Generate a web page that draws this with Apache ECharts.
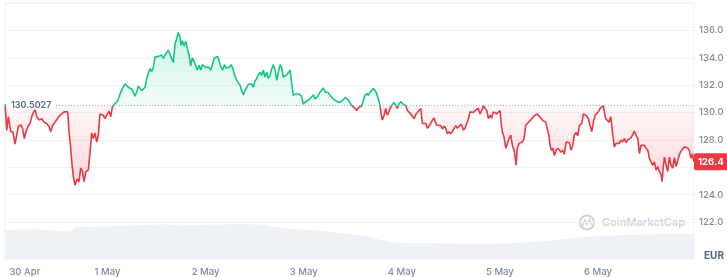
<!DOCTYPE html>
<html>
<head>
<meta charset="utf-8">
<script src="https://cdn.jsdelivr.net/npm/echarts@6/dist/echarts.min.js"></script>
<style>
  html, body { margin: 0; padding: 0; background: #fff; }
  #chart { width: 727px; height: 277px; }
</style>
</head>
<body>
<div id="chart"></div>
<script>
// hours since 30 Apr 00:00, price in EUR
var priceHours = [
  -1.05, -0.66, -0.27, 0.32, 0.81, 1.37, 1.79, 2.18, 2.84, 3.25,
  3.65, 4.06, 4.55, 5.04, 5.46, 5.85, 6.26, 6.68, 7.32, 7.9,
  8.47, 9.13, 9.76, 10.1, 10.6, 11.16, 11.72, 12.21, 12.8, 13.36,
  14.27, 14.58, 15.0, 15.32, 15.64, 16.05, 16.61, 17.03, 17.45, 17.84,
  18.25, 18.74, 19.31, 19.72, 20.14, 20.53, 20.95, 21.36, 21.75, 22.17,
  22.59, 22.98, 23.39, 23.96, 24.37, 24.79, 25.18, 25.84, 26.5, 27.06,
  27.63, 28.29, 28.7, 29.1, 29.51, 29.93, 30.32, 30.73, 31.15, 31.54,
  31.96, 32.37, 32.77, 33.18, 33.6, 33.99, 34.4, 34.82, 35.21, 35.63,
  36.04, 36.44, 36.85, 37.27, 37.66, 38.08, 38.49, 38.88, 39.3, 39.71,
  40.11, 40.52, 40.94, 41.33, 41.74, 41.99, 42.31, 42.72, 43.14, 43.53,
  43.95, 44.36, 44.76, 45.17, 45.59, 45.98, 46.4, 46.81, 47.2, 47.62,
  48.03, 48.43, 48.84, 49.26, 49.65, 50.07, 50.48, 50.97, 51.36, 51.78,
  52.19, 52.59, 53.0, 53.42, 53.81, 54.23, 54.64, 55.03, 55.62, 56.01,
  56.42, 56.84, 57.23, 57.65, 58.06, 58.46, 58.87, 59.29, 59.68, 60.1,
  60.51, 60.9, 61.32, 61.73, 62.13, 62.54, 62.96, 63.35, 63.77, 64.18,
  64.58, 64.99, 65.41, 65.8, 66.22, 66.63, 67.02, 67.44, 67.85, 68.25,
  68.66, 69.08, 69.47, 69.89, 70.3, 70.7, 71.11, 71.53, 71.92, 72.34,
  72.75, 73.14, 73.56, 73.97, 74.37, 74.78, 75.2, 75.59, 76.01, 76.42,
  76.81, 77.23, 77.64, 78.04, 78.45, 78.87, 79.26, 79.68, 80.09, 80.48,
  80.9, 81.31, 81.71, 82.12, 82.54, 82.94, 83.35, 83.76, 84.15, 84.57,
  84.98, 85.38, 85.79, 86.21, 86.6, 87.02, 87.43, 87.82, 88.24, 88.65,
  89.05, 89.46, 89.71, 90.03, 90.27, 90.69, 90.93, 91.25, 91.67, 92.08,
  92.47, 92.89, 93.3, 93.7, 94.11, 94.53, 94.92, 95.34, 95.75, 96.14,
  96.56, 96.98, 97.37, 97.79, 98.2, 98.59, 99.01, 99.42, 99.82, 100.23,
  100.65, 101.04, 101.46, 101.87, 102.26, 102.68, 103.09, 103.48, 103.9, 104.32,
  104.71, 105.13, 105.54, 105.93, 106.35, 106.76, 107.15, 107.57, 107.98, 108.37,
  108.79, 109.2, 109.6, 110.01, 110.43, 110.8, 111.07, 111.48, 111.9, 112.29,
  112.71, 113.12, 113.51, 113.93, 114.35, 114.74, 115.16, 115.57, 115.96, 116.38,
  116.79, 117.18, 117.6, 118.02, 118.41, 118.83, 119.24, 119.63, 120.05, 120.29,
  120.61, 121.03, 121.44, 121.83, 122.25, 122.66, 123.06, 123.47, 123.79, 123.96,
  124.28, 124.7, 125.11, 125.5, 125.92, 126.33, 126.72, 127.14, 127.55, 127.95,
  128.36, 128.78, 129.17, 129.59, 130.0, 130.4, 130.81, 131.23, 131.62, 131.96,
  132.29, 132.6, 132.95, 133.34, 133.76, 134.17, 134.56, 134.98, 135.39, 135.78,
  136.2, 136.61, 137.0, 137.42, 137.84, 138.23, 138.65, 139.06, 139.45, 140.04,
  140.43, 140.85, 141.26, 141.65, 142.07, 142.49, 142.88, 143.3, 143.71, 144.1,
  144.52, 144.93, 145.33, 145.57, 145.91, 146.3, 146.72, 147.14, 147.38, 147.7,
  148.02, 148.43, 148.85, 149.24, 149.66, 150.07, 150.46, 150.88, 151.29, 151.69,
  152.1, 152.52, 152.91, 153.33, 153.74, 154.13, 154.55, 154.97, 155.36, 155.78,
  156.19, 156.58, 157.0, 157.41, 157.8, 158.22, 158.64, 159.03, 159.45, 159.69,
  159.94, 160.25, 160.67, 161.08, 161.48, 161.89, 162.31, 162.7, 163.12, 163.53,
  163.92, 164.34, 164.75, 165.15, 165.56, 165.98, 166.37, 166.79, 167.1, 167.5
];
var priceValues = [
  130.6, 128.7, 129.7, 128.6, 128.6, 127.7, 128.35, 129.0, 129.1, 128.8,
  128.1, 128.6, 129.0, 129.2, 129.7, 130.0, 130.2, 129.7, 129.45, 129.55,
  129.3, 129.2, 128.95, 128.6, 129.1, 129.3, 129.55, 129.75, 129.9, 130.05,
  130.05, 128.6, 127.4, 126.2, 125.3, 124.7, 125.15, 124.95, 125.95, 125.7,
  124.95, 125.7, 125.8, 127.1, 128.5, 128.1, 128.5, 127.85, 128.35, 129.9,
  130.0, 129.8, 129.55, 129.9, 130.1, 129.7, 130.4, 130.65, 130.85, 131.35,
  131.75, 132.1, 132.05, 131.85, 131.75, 131.7, 131.5, 131.2, 131.5, 131.95,
  132.05, 131.6, 131.55, 131.85, 132.5, 132.6, 133.2, 133.0, 133.3, 134.05,
  133.95, 134.1, 134.05, 134.2, 133.95, 134.2, 134.3, 134.55, 134.65, 133.95,
  133.65, 135.0, 135.4, 135.85, 135.5, 134.9, 135.25, 134.85, 135.2, 134.7,
  134.2, 133.4, 134.0, 133.75, 133.8, 133.1, 133.45, 133.1, 133.5, 133.45,
  133.3, 133.2, 133.3, 133.1, 133.45, 133.95, 134.05, 134.1, 134.05, 133.3,
  133.1, 133.5, 133.25, 133.2, 133.3, 133.5, 133.25, 132.8, 132.35, 132.35,
  132.0, 131.6, 131.3, 131.6, 131.5, 132.05, 132.0, 132.1, 131.85, 132.3,
  132.5, 132.5, 132.95, 132.7, 133.1, 132.6, 132.95, 132.5, 132.7, 133.2,
  133.5, 133.1, 132.35, 132.95, 133.5, 133.25, 132.6, 132.5, 132.75, 132.7,
  133.1, 132.1, 131.25, 131.2, 131.4, 131.45, 131.3, 131.15, 130.6, 130.75,
  130.8, 130.9, 131.0, 131.15, 131.3, 131.0, 130.95, 131.25, 131.5, 131.6,
  131.8, 131.5, 131.4, 131.45, 131.25, 131.15, 131.0, 130.95, 130.8, 130.9,
  130.75, 130.65, 130.95, 131.1, 131.2, 130.9, 130.7, 130.5, 130.4, 130.3,
  130.15, 130.35, 130.4, 130.5, 130.9, 131.25, 131.4, 131.25, 131.5, 131.4,
  131.75, 131.8, 131.5, 131.4, 131.0, 130.5, 129.9, 129.45, 129.8, 130.3,
  129.8, 130.1, 130.4, 130.5, 130.75, 130.5, 130.3, 130.65, 130.8, 130.65,
  130.75, 130.5, 130.15, 130.05, 129.9, 129.8, 129.55, 129.85, 129.75, 130.15,
  130.3, 129.2, 129.3, 129.2, 128.85, 128.95, 129.2, 129.45, 129.6, 129.2,
  129.05, 128.95, 129.05, 128.8, 129.0, 128.85, 128.45, 128.6, 128.45, 128.6,
  128.85, 129.05, 128.85, 128.95, 129.15, 129.0, 128.7, 128.85, 129.2, 129.55,
  130.05, 130.15, 130.0, 130.15, 130.1, 130.3, 129.9, 130.15, 130.5, 130.4,
  130.15, 129.55, 129.8, 129.6, 130.05, 130.15, 129.9, 130.0, 130.15, 129.3,
  128.6, 128.2, 127.4, 127.3, 128.1, 128.35, 127.6, 127.25, 126.65, 126.15,
  127.4, 127.75, 127.85, 127.85, 128.1, 129.05, 129.2, 129.2, 129.45, 129.5,
  129.75, 129.7, 129.9, 129.75, 129.7, 129.45, 129.35, 129.3, 129.2, 128.35,
  127.6, 127.25, 127.4, 126.85, 127.25, 127.4, 127.5, 127.1, 127.25, 126.95,
  127.85, 127.75, 127.8, 127.25, 127.6, 128.35, 128.55, 128.3, 129.05, 129.2,
  129.9, 129.85, 129.75, 129.55, 129.05, 128.6, 129.3, 129.8, 129.9, 130.05,
  130.3, 130.4, 130.5, 130.0, 129.55, 129.45, 129.3, 129.7, 129.05, 128.2,
  127.5, 127.75, 127.85, 127.75, 128.0, 127.85, 128.1, 127.8, 128.0, 128.1,
  128.15, 128.1, 128.65, 128.35, 128.1, 127.0, 127.6, 127.5, 127.6, 127.4,
  127.25, 126.65, 126.7, 126.15, 126.4, 125.8, 126.05, 125.7, 125.45, 124.95,
  125.9, 126.75, 126.15, 125.7, 126.75, 126.15, 125.95, 126.7, 126.05, 126.5,
  126.9, 127.2, 127.3, 127.5, 127.6, 127.4, 127.2, 126.65, 127.0, 126.4
];

// volume (arbitrary units, millions EUR)
var volumeHours = [-1.08, 6.3, 12.4, 14.8, 16.1, 27.1, 37.6, 41.7, 46.6, 56.4, 62.5, 64.5, 68.7, 76.7,
  80.9, 87.0, 89.0, 93.1, 95.6, 105.4, 115.2, 123.2, 131.5, 137.9, 141.3, 149.4, 157.5, 167.5];
var volumes = [31.3, 32, 30.2, 29.5, 34.3, 35.6, 37.4, 36, 36.7, 37.8, 37, 34.9, 32.4, 30.2,
  27.7, 24.8, 22.4, 18.7, 17.6, 17, 16.2, 17, 19.4, 22.4, 24.1, 25.6, 26.6, 27];

var dayTicks = [0, 24, 48, 72, 96, 120, 144];
var dayLabels = ['30 Apr', '1 May', '2 May', '3 May', '4 May', '5 May', '6 May'];

var openPrice = 130.5027;
var lastPrice = 126.4;

var green = '#16c784';
var red = '#ea3943';
var labelGray = '#808a9d';

var pricePts = priceHours.map(function (h, i) { return [h, priceValues[i]]; });
var upperPts = priceHours.map(function (h, i) { return [h, Math.max(priceValues[i], openPrice)]; });
var lowerPts = priceHours.map(function (h, i) { return [h, Math.min(priceValues[i], openPrice)]; });
var volPts = volumeHours.map(function (h, i) { return [h, volumes[i]]; });

var chart = echarts.init(document.getElementById('chart'));

var option = {
  animation: false,
  textStyle: { fontFamily: 'Inter, Roboto, sans-serif' },
  grid: [
    { left: 5, right: 33, top: 3, bottom: 27.5 },
    { left: 5, right: 33, top: 3, bottom: 18, show: true, borderColor: '#eff2f5', borderWidth: 1 }
  ],
  xAxis: [
    { gridIndex: 0, type: 'value', min: -1.08, max: 167.5, show: false },
    {
      gridIndex: 1, type: 'value', min: -1.08, max: 167.5,
      axisLine: { show: false }, axisTick: { show: false }, splitLine: { show: false },
      axisLabel: {
        customValues: dayTicks,
        formatter: function (v) { return dayLabels[Math.round(v / 24)]; },
        color: labelGray, fontSize: 9.5, fontWeight: 500, margin: 8,
        alignMinLabel: 'left'
      }
    }
  ],
  yAxis: [
    {
      gridIndex: 0, type: 'value', position: 'right', min: 120, max: 138, interval: 2,
      axisLine: { show: false }, axisTick: { show: false },
      splitLine: { lineStyle: { color: '#eff2f5', width: 1 } },
      axisLabel: {
        color: labelGray, fontSize: 9.5, fontWeight: 500, margin: 5,
        showMinLabel: false, showMaxLabel: false,
        formatter: function (v) { return v.toFixed(1); }
      }
    },
    { gridIndex: 1, type: 'value', min: 0, max: 276, show: false }
  ],
  visualMap: {
    show: false, type: 'piecewise', seriesIndex: 0, dimension: 1,
    pieces: [
      { min: 100, max: openPrice, color: red },
      { min: openPrice, max: 160, color: green }
    ]
  },
  series: [
    {
      name: 'Price', type: 'line', xAxisIndex: 0, yAxisIndex: 0, clip: false,
      data: pricePts, symbol: 'none', lineStyle: { width: 1.6 }, z: 5,
      markLine: {
        silent: true, symbol: ['none', 'none'],
        data: [
          {
            yAxis: openPrice,
            lineStyle: { color: '#a6b0c3', type: [1, 2], width: 1 },
            label: {
              show: true, position: 'insideStartTop', distance: [3, 0], verticalAlign: 'middle',
              formatter: '130.5027', backgroundColor: '#fff', color: '#58667e',
              fontSize: 9, fontWeight: 600, padding: [2, 4, 2, 3]
            }
          },
          {
            yAxis: lastPrice,
            lineStyle: { color: 'rgba(0,0,0,0)', width: 0 },
            label: {
              show: true, position: 'end', distance: 0, opacity: 1,
              formatter: '126.4', backgroundColor: red, color: '#fff',
              fontSize: 9.5, fontWeight: 700, padding: [4, 4, 3, 4], borderRadius: 2
            }
          }
        ]
      }
    },
    {
      name: 'above', type: 'line', xAxisIndex: 0, yAxisIndex: 0, silent: true,
      data: upperPts, symbol: 'none', lineStyle: { width: 0 }, z: 3,
      areaStyle: {
        origin: openPrice,
        color: new echarts.graphic.LinearGradient(0, 0, 0, 1, [
          { offset: 0, color: 'rgba(22,199,132,0.30)' },
          { offset: 1, color: 'rgba(22,199,132,0.08)' }
        ])
      }
    },
    {
      name: 'below', type: 'line', xAxisIndex: 0, yAxisIndex: 0, silent: true,
      data: lowerPts, symbol: 'none', lineStyle: { width: 0 }, z: 3,
      areaStyle: {
        origin: openPrice,
        color: new echarts.graphic.LinearGradient(0, 0, 0, 1, [
          { offset: 0, color: 'rgba(234,57,67,0.06)' },
          { offset: 1, color: 'rgba(234,57,67,0.28)' }
        ])
      }
    },
    {
      name: 'Volume', type: 'line', xAxisIndex: 1, yAxisIndex: 1, silent: true,
      data: volPts, symbol: 'none', lineStyle: { width: 0 }, z: 1,
      areaStyle: { color: '#eef1f5', opacity: 1 }
    }
  ],
  graphic: [
    { type: 'circle', shape: { cx: 587, cy: 222.5, r: 7 }, style: { fill: 'none', stroke: '#cdd3de', lineWidth: 2 } },
    {
      type: 'polyline',
      shape: { points: [[582.5, 226], [585, 220], [587, 224.5], [589.5, 219.5], [591.5, 225]] },
      style: { fill: 'none', stroke: '#cdd3de', lineWidth: 1.6 }
    },
    {
      type: 'text', x: 602, y: 223,
      style: { text: 'CoinMarketCap', fill: '#cdd3de', fontSize: 11, fontWeight: 600, fontFamily: 'Inter, sans-serif', verticalAlign: 'middle' }
    },
    {
      type: 'text', x: 704, y: 256,
      style: { text: 'EUR', fill: '#58667e', fontSize: 10, fontWeight: 700, fontFamily: 'Inter, sans-serif', verticalAlign: 'middle' }
    }
  ]
};

chart.setOption(option);
</script>
</body>
</html>
